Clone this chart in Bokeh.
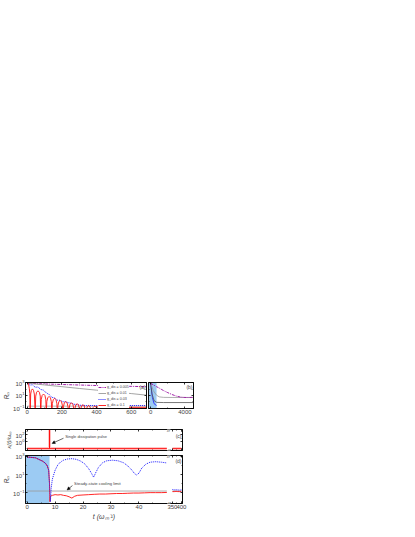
from bokeh.plotting import figure
from bokeh.layouts import column, row
from bokeh.models import (FixedTicker, Spacer, Label, Arrow, NormalHead, LinearAxis, LogAxis,
                          Range1d, BoxAnnotation, Legend, LegendItem, CustomJSTickFormatter)
from bokeh.embed import file_html
from bokeh.resources import INLINE

# ---------------- data ----------------
# panel (a): R_n versus t for four dissipation rates
a_t_mag = [0, 50, 100, 150, 200, 300, 400, 500, 600, 690]
a_r_mag = [850, 760, 680, 610, 550, 460, 380, 320, 280, 250]
a_t_gray = [0, 100, 200, 300, 400, 500, 600, 690]
a_r_gray = [900, 470, 250, 130, 70, 38, 20, 11]
a_t_blue = [0, 15, 30, 46, 62, 78, 94, 110, 126, 142, 158, 174, 190, 206, 222, 238, 254,
            271, 288, 304, 321, 340, 370, 400, 500, 600, 690]
a_r_blue = [900, 450, 500, 200, 220, 90, 70, 25, 15, 5, 4, 1.8, 1.7, 1.0, 1.0, 0.7, 0.6,
            0.4, 0.35, 0.28, 0.27, 0.25, 0.25, 0.25, 0.25, 0.25, 0.25]
a_t_red = [0, 4, 8, 12, 15, 17,
           20, 24, 30, 36, 41, 46,
           49, 54, 62, 70, 75, 78,
           81, 86, 94, 102, 107, 110,
           113, 118, 126, 134, 139, 142,
           145, 150, 158, 166, 171, 174,
           177, 182, 190, 198, 203, 206,
           209, 214, 222, 230, 235, 238,
           242, 247, 255, 263, 268, 271,
           275, 280, 288, 296, 301, 304,
           308, 313, 321, 329, 334, 337,
           341, 346, 354, 362, 367, 371,
           375, 380, 388, 396, 410, 500, 600, 690]
a_r_red = [900, 950, 500, 120, 20, 0.02,
           17, 66, 110, 66, 17, 0.02,
           8, 33, 55, 33, 8, 0.02,
           2.5, 10, 17, 10, 2.5, 0.02,
           1.05, 4.2, 7, 4.2, 1.05, 0.02,
           0.5, 2.1, 3.5, 2.1, 0.5, 0.02,
           0.24, 0.96, 1.6, 0.96, 0.24, 0.02,
           0.17, 0.66, 1.1, 0.66, 0.17, 0.02,
           0.1, 0.42, 0.7, 0.42, 0.1, 0.02,
           0.08, 0.3, 0.5, 0.3, 0.08, 0.02,
           0.05, 0.21, 0.35, 0.21, 0.05, 0.02,
           0.04, 0.16, 0.26, 0.16, 0.04, 0.02,
           0.03, 0.12, 0.2, 0.15, 0.14, 0.13, 0.13, 0.13]
a_t_ss = [0, 690]
a_r_ss = [0.2, 0.2]
legend_labels = ["g_dis = 0.005", "g_dis = 0.01", "g_dis = 0.03", "g_dis = 0.1"]

# panel (b): long-time behaviour
b_shade_end = 690
b_t_mag = [0, 690, 1000, 1500, 2000, 2500, 3000, 3500, 4000, 4500, 5000]
b_r_mag = [850, 250, 150, 60, 28, 14, 8, 5.5, 4.8, 4.8, 5]
b_t_gray = [0, 300, 690, 1000, 1500, 2500, 5000]
b_r_gray = [900, 60, 11, 6, 5, 4.8, 4.8]
b_t_dark = [0, 150, 400, 700, 1500, 5000]
b_r_dark = [900, 20, 1.5, 0.8, 0.75, 0.75]
b_t_blue = [0, 200, 400, 690]
b_r_blue = [900, 5, 0.5, 0.25]

# panel (c): dissipation kappa(t)/omega_m, single pulse at t = 8
c_t = [0, 8, 8, 8, 50]
c_k = [0.01, 0.01, 3000, 0.01, 0.01]
c_t2 = [350, 400]
c_k2 = [0.01, 0.01]

# panel (d): R_n with a single dissipation pulse
d_t_blue = [0, 3, 5.5, 6.5, 7.2, 7.7, 8.0, 8.3, 8.6, 9, 10, 11, 12, 13, 14.5, 16, 17.5, 19,
            20.5, 22, 23, 23.8, 24.5, 25.5, 27, 28.5, 30.5, 32.5, 34.5, 36, 37.5, 38.5, 39.2,
            40, 41, 42.5, 44, 46, 48, 50]
d_r_blue = [850, 700, 300, 180, 90, 30, 1.0, 0.01, 0.3, 3, 30, 120, 250, 380, 520, 560, 480,
            320, 160, 45, 14, 5, 15, 60, 200, 330, 380, 330, 200, 90, 30, 12, 9,
            14, 50, 140, 230, 260, 230, 190]
d_t_red = [0, 3, 5.5, 6.5, 7.2, 7.7, 8.0, 8.15, 8.3, 9, 10, 11, 12, 13, 14, 15, 16, 17, 18,
           20, 22, 24, 26, 28, 30, 32, 34, 36, 38, 40, 42, 44, 46, 48, 50]
d_r_red = [850, 700, 300, 180, 90, 30, 1.0, 0.01, 0.04, 0.05, 0.06, 0.055, 0.06, 0.05, 0.045,
           0.035, 0.025, 0.04, 0.05, 0.055, 0.06, 0.065, 0.07, 0.07, 0.075, 0.08, 0.08,
           0.085, 0.09, 0.09, 0.095, 0.1, 0.1, 0.1, 0.105]
d_t_blue2 = [350, 360, 370, 380, 390, 400]
d_r_blue2 = [0.22, 0.2, 0.21, 0.2, 0.19, 0.2]
d_t_red2 = [350, 360, 370, 380, 390, 400]
d_r_red2 = [0.13, 0.13, 0.14, 0.13, 0.13, 0.14]
d_ss = 0.15
d_shade_end = 8

x_ticks_a = [0, 200, 400, 600]
x_ticks_b = [0, 4000]
x_ticks_d = [0, 10, 20, 30, 40, 350, 400]

# ---------------- style ----------------
FONT = "Liberation Sans"
MAG = "#a020a8"
GRAY = "#9a9a9a"
BLUE = "#1a1aff"
RED = "#ff1010"
SHADE = "#9ccbf3"
BL = 16


def brk(ts):
    # broken time axis: 0..50 linear, then 350..400 compressed after the break
    return [t if t <= 100 else 52 + (t - 350) * 0.064 for t in ts]


def hide_labels(ax):
    ax.formatter = CustomJSTickFormatter(code="return ''")
    ax.major_label_standoff = 0


def setup(p, xt, yt, xlabels, ylabels):
    p.grid.visible = False
    p.outline_line_color = "black"
    p.outline_line_width = 0.8
    p.add_layout(LinearAxis(ticker=xt), "above")
    p.add_layout(LogAxis(ticker=yt), "right")
    p.below[0].ticker = xt
    p.left[0].ticker = yt
    for ax in p.axis:
        ax.axis_line_color = "black"
        ax.axis_line_width = 0.8
        ax.major_tick_in = 2
        ax.major_tick_out = 0
        ax.minor_tick_in = 1
        ax.minor_tick_out = 0
        ax.major_tick_line_width = 0.8
        ax.minor_tick_line_width = 0.6
        ax.major_label_text_font = FONT
        ax.major_label_text_font_size = "6px"
        ax.major_label_standoff = 1
        ax.axis_label_text_font = FONT
        ax.axis_label_standoff = 0
    hide_labels(p.above[0])
    hide_labels(p.right[0])
    if not xlabels:
        hide_labels(p.below[0])
    if not ylabels:
        hide_labels(p.left[0])


def fig(fw, fh, xr, yr, bl, br, bt, bb):
    return figure(frame_width=fw, frame_height=fh, x_range=xr, y_range=yr, y_axis_type="log",
                  output_backend="svg", toolbar_location=None,
                  min_border_left=bl, min_border_right=br, min_border_top=bt, min_border_bottom=bb,
                  background_fill_color="white", border_fill_color="white")


def panel_label(p, x, y, text, yoff=-1):
    p.add_layout(Label(x=x, y=y, text=text, text_align="right", text_baseline="top",
                       x_offset=-1, y_offset=yoff, text_font=FONT, text_font_size="5px"))


# ---------- panel (a) ----------
ya = (0.085, 1150)
pa = fig(121, 26, Range1d(-10, 688), Range1d(*ya), BL, 1, 3, 9)
setup(pa, FixedTicker(ticks=x_ticks_a, minor_ticks=[100, 300, 500]),
      FixedTicker(ticks=[0.1, 10, 1000], minor_ticks=[1, 100]), True, True)
pa.left[0].axis_label = "Rₙ"
pa.left[0].axis_label_text_font_size = "6.5px"
pa.line(a_t_ss, a_r_ss, color=GRAY, line_width=0.7)
r_mag = pa.line(a_t_mag, a_r_mag, color=MAG, line_width=1, line_dash="3 1 1 1")
r_gray = pa.line(a_t_gray, a_r_gray, color=GRAY, line_width=0.9)
r_blue = pa.line(a_t_blue, a_r_blue, color=BLUE, line_width=1, line_dash="1 1")
r_red = pa.line(a_t_red, a_r_red, color=RED, line_width=0.9)
leg = Legend(items=[LegendItem(label=legend_labels[0], renderers=[r_mag]),
                    LegendItem(label=legend_labels[1], renderers=[r_gray]),
                    LegendItem(label=legend_labels[2], renderers=[r_blue]),
                    LegendItem(label=legend_labels[3], renderers=[r_red])],
             location=(73, 0), background_fill_color="white", background_fill_alpha=1,
             border_line_color=None, padding=1, spacing=0, margin=0,
             glyph_width=8, glyph_height=6, label_height=6, label_standoff=1,
             label_text_font=FONT, label_text_font_size="3.6px")
pa.add_layout(leg)
panel_label(pa, 688, ya[1], "(a)")

# ---------- panel (b) ----------
pb = fig(45, 26, Range1d(-250, 5000), Range1d(*ya), 1, 10, 3, 9)
setup(pb, FixedTicker(ticks=x_ticks_b, minor_ticks=[2000]),
      FixedTicker(ticks=[0.1, 10, 1000], minor_ticks=[1, 100]), True, False)
pb.add_layout(BoxAnnotation(right=b_shade_end, fill_color=SHADE, fill_alpha=1, line_color=None,
                            level="underlay"))
pb.line(b_t_blue, b_r_blue, color=BLUE, line_width=0.8)
pb.line(b_t_dark, b_r_dark, color="#555555", line_width=0.8)
pb.line(b_t_gray, b_r_gray, color=GRAY, line_width=0.8)
pb.line(b_t_mag, b_r_mag, color=MAG, line_width=1, line_dash="3 1 1 1")
panel_label(pb, 5000, ya[1], "(b)")

# ---------- panel (c) ----------
xr_cd = (-0.6, 55.6)
yc = (10 ** -2.55, 10 ** 3.45)
pc = fig(157, 21, Range1d(*xr_cd), Range1d(*yc), BL, 10, 12, 2)
tick_u = brk(x_ticks_d)
setup(pc, FixedTicker(ticks=tick_u, minor_ticks=[5, 15, 25, 35, 45, 53.6]),
      FixedTicker(ticks=[1, 100], minor_ticks=[0.01, 10, 1000]), False, True)
pc.left[0].axis_label = "κ(t)/ωₘ"
pc.left[0].axis_label_text_font_size = "5.5px"
pc.line(brk(c_t), c_k, color="#ff8080", line_width=3, alpha=0.45)
pc.line(brk(c_t2), c_k2, color="#ff8080", line_width=3, alpha=0.45)
pc.line(brk(c_t), c_k, color=RED, line_width=0.9)
pc.line(brk(c_t2), c_k2, color=RED, line_width=0.9)
pc.add_layout(Label(x=13.6, y=30, text="Single dissipation pulse", text_baseline="middle",
                    text_font=FONT, text_font_size="4px"))
pc.add_layout(Arrow(end=NormalHead(size=3, line_width=0.5, fill_color="black"),
                    x_start=13.0, y_start=9, x_end=8.9, y_end=0.3, line_width=0.6))
panel_label(pc, xr_cd[1], yc[1], "(c)", yoff=-3)

# ---------- panel (d) ----------
yd = (10 ** -2.2, 10 ** 3.1)
pd = fig(157, 48, Range1d(*xr_cd), Range1d(*yd), BL, 10, 3, 17)
setup(pd, FixedTicker(ticks=tick_u, minor_ticks=[5, 15, 25, 35, 45, 53.6]),
      FixedTicker(ticks=[0.1, 10, 1000], minor_ticks=[0.01, 1, 100]), True, True)
pd.below[0].major_label_overrides = {tick_u[5]: "350", tick_u[6]: "400"}
pd.left[0].axis_label = "Rₙ"
pd.left[0].axis_label_text_font_size = "6.5px"
pd.below[0].axis_label = "t (ωₘ⁻¹)"
pd.below[0].axis_label_text_font_size = "7px"
pd.below[0].axis_label_standoff = 1
pd.add_layout(BoxAnnotation(right=d_shade_end, fill_color=SHADE, fill_alpha=1, line_color=None,
                            level="underlay"))
pd.line([0, 50], [d_ss, d_ss], color=GRAY, line_width=0.8)
pd.line(brk([350, 400]), [d_ss, d_ss], color=GRAY, line_width=0.8)
pd.line(d_t_red, d_r_red, color=RED, line_width=0.9)
pd.line(brk(d_t_red2), d_r_red2, color=RED, line_width=0.9)
pd.line(d_t_blue, d_r_blue, color=BLUE, line_width=1, line_dash="1 1")
pd.line(brk(d_t_blue2), d_r_blue2, color=BLUE, line_width=1, line_dash="1 1")
pd.add_layout(Label(x=16.8, y=1.1, text="Steady-state cooling limit", text_baseline="middle",
                    text_font=FONT, text_font_size="4.2px"))
pd.add_layout(Arrow(end=NormalHead(size=3, line_width=0.5, fill_color="black"),
                    x_start=16.2, y_start=0.6, x_end=14.3, y_end=0.2, line_width=0.6))
panel_label(pd, xr_cd[1], yd[1], "(d)", yoff=-2)

# break marks on the time axis
for p, yr in ((pc, yc), (pd, yd)):
    for yv in yr:
        p.add_layout(Label(x=50.7, y=yv, text="//", text_align="center", text_baseline="middle",
                           text_font=FONT, text_font_size="6px", text_font_style="italic",
                           background_fill_color="white"))

layout = column(Spacer(width=1, height=379), row(pa, pb), pc, pd)
open("out.html", "w").write(file_html(layout, INLINE))
